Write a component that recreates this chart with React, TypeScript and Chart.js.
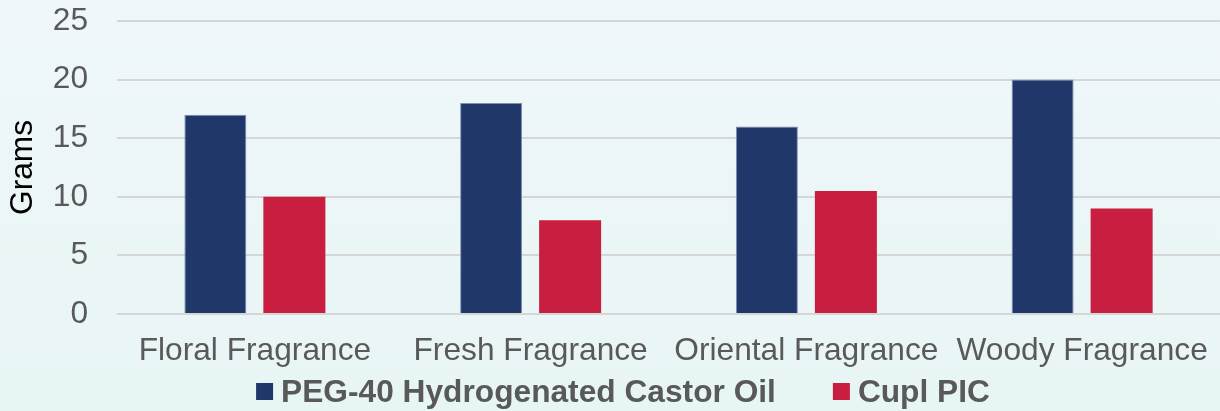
import React, { useEffect, useRef } from "react";
import { Chart, registerables } from "chart.js";

Chart.register(...registerables);

const categories = ["Floral Fragrance", "Fresh Fragrance", "Oriental Fragrance", "Woody Fragrance"];
const seriesNames = ["PEG-40 Hydrogenated Castor Oil", "Cupl PIC"];
const pegValues = [17, 18, 16, 20];
const cuplValues = [10, 8, 10.5, 9];
const yTicks = [0, 5, 10, 15, 20, 25];

const FONT = "'Liberation Sans', Arial, Helvetica, sans-serif";
const FS = 31.7;

const bgPlugin = {
  id: "bgGradient",
  beforeDraw(chart: any) {
    const { ctx, width, height } = chart;
    const g = ctx.createLinearGradient(0, 0, 0, height);
    g.addColorStop(0, "#EFF7FA");
    g.addColorStop(1, "#E8F5F5");
    ctx.save();
    ctx.fillStyle = g;
    ctx.fillRect(0, 0, width, height);
    ctx.restore();
  },
};

const legendPlugin = {
  id: "customLegend",
  afterDraw(chart: any) {
    const { ctx, width } = chart;
    const ds = chart.data.datasets;
    const box = 17;
    const gap = 8;
    const spacing = 57;
    ctx.save();
    ctx.font = `bold ${FS}px ${FONT}`;
    const widths = ds.map((d: any) => ctx.measureText(d.label).width);
    let total = 0;
    widths.forEach((w: number, i: number) => {
      total += box + gap + w + (i < widths.length - 1 ? spacing : 0);
    });
    let x = width / 2 + 13 - total / 2;
    const boxTop = 383;
    ds.forEach((d: any, i: number) => {
      ctx.fillStyle = d.backgroundColor;
      ctx.fillRect(x, boxTop, box, box);
      ctx.fillStyle = "#595959";
      ctx.textBaseline = "alphabetic";
      ctx.textAlign = "left";
      ctx.fillText(d.label, x + box + gap, 401.5);
      x += box + gap + widths[i] + spacing;
    });
    ctx.restore();
  },
};

export default function App() {
  const canvasRef = useRef<HTMLCanvasElement | null>(null);

  useEffect(() => {
    const canvas = canvasRef.current;
    if (!canvas) return;
    const chart = new Chart(canvas, {
      type: "bar",
      data: {
        labels: categories,
        datasets: [
          {
            label: seriesNames[0],
            data: pegValues,
            backgroundColor: "#1F3769",
            borderColor: "#7F8FAE",
            borderWidth: 1,
            categoryPercentage: 0.573,
            barPercentage: 0.785,
          },
          {
            label: seriesNames[1],
            data: cuplValues,
            backgroundColor: "#C81E3F",
            borderColor: "#D9607A",
            borderWidth: 0,
            categoryPercentage: 0.573,
            barPercentage: 0.785,
          },
        ],
      },
      options: {
        animation: false,
        responsive: true,
        maintainAspectRatio: false,
        layout: { padding: { top: 21, bottom: 23, left: 0, right: 0 } },
        plugins: {
          legend: { display: false },
          tooltip: { enabled: false },
          title: { display: false },
        },
        scales: {
          x: {
            afterFit: (scale: any) => {
              scale.paddingLeft = 0;
              scale.paddingRight = 0;
            },
            grid: { display: false, drawTicks: false },
            border: { display: false },
            ticks: {
              padding: 18,
              color: "#595959",
              font: { family: FONT, size: FS },
              maxRotation: 0,
              autoSkip: false,
            },
          },
          y: {
            min: 0,
            max: 25,
            afterBuildTicks: (scale: any) => {
              scale.ticks = yTicks.map((v) => ({ value: v }));
            },
            afterFit: (scale: any) => {
              scale.width = 117;
              scale.paddingTop = 0;
              scale.paddingBottom = 0;
            },
            grid: { color: "#D6D6D6", lineWidth: 2, drawTicks: false },
            border: { display: false },
            ticks: {
              padding: 29,
              color: "#595959",
              font: { family: FONT, size: FS },
            },
            title: {
              display: true,
              text: "Grams",
              color: "#000000",
              font: { family: FONT, size: FS },
            },
          },
        },
      },
      plugins: [bgPlugin, legendPlugin],
    });
    return () => chart.destroy();
  }, []);

  return (
    <div style={{ position: "fixed", left: 0, top: 0, width: 1220, height: 411 }}>
      <canvas ref={canvasRef} />
    </div>
  );
}
